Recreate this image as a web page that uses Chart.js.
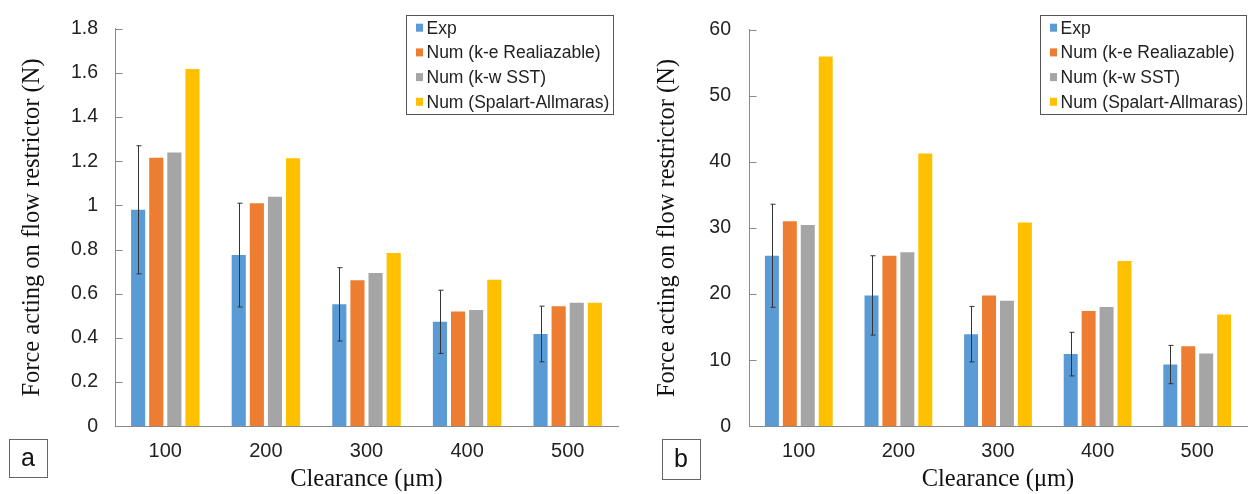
<!DOCTYPE html>
<html>
<head>
<meta charset="utf-8">
<title>Force acting on flow restrictor</title>
<script src="https://cdn.jsdelivr.net/npm/chart.js@4.4.1/dist/chart.umd.min.js"></script>
<style>
  body { margin: 0; background: #fff; }
  #wrap { position: relative; width: 1248px; height: 494px; }
  canvas { position: absolute; top: 0; }
  #chartA { left: 0; }
  #chartB { left: 624px; }
</style>
</head>
<body>
<div id="wrap">
  <canvas id="chartA" width="624" height="494"></canvas>
  <canvas id="chartB" width="624" height="494"></canvas>
</div>
<script>
// Categories and series names
const clearances = ['100', '200', '300', '400', '500'];
const seriesNames = ['Exp', 'Num (k-e Realiazable)', 'Num (k-w SST)', 'Num (Spalart-Allmaras)'];
const seriesColors = ['#5B9BD5', '#ED7D31', '#A5A5A5', '#FFC000'];

// Panel a
const expA = [0.98, 0.775, 0.552, 0.473, 0.418];
const expErrA = [0.29, 0.235, 0.166, 0.143, 0.126];
const keA = [1.216, 1.01, 0.661, 0.52, 0.544];
const kwA = [1.239, 1.039, 0.694, 0.526, 0.559];
const saA = [1.617, 1.213, 0.784, 0.664, 0.559];
const yTicksA = ['0', '0.2', '0.4', '0.6', '0.8', '1', '1.2', '1.4', '1.6', '1.8'];

// Panel b
const expB = [25.8, 19.8, 13.94, 10.92, 9.34];
const expErrB = [7.8, 6.0, 4.2, 3.3, 2.9];
const keB = [31.04, 25.8, 19.8, 17.44, 12.1];
const kwB = [30.45, 26.34, 18.98, 18.03, 11.02];
const saB = [55.95, 41.27, 30.85, 25.0, 16.9];
const yTicksB = ['0', '10', '20', '30', '40', '50', '60'];

const SANS = '"Liberation Sans", Arial, sans-serif';
const SERIF = '"Liberation Serif", "Times New Roman", serif';
const AXIS_GREY = '#898989';

// Error bars on the first dataset
const errorBarsPlugin = {
    id: 'errorBars',
    afterDatasetsDraw(chart, args, opts) {
        const meta = chart.getDatasetMeta(0);
        const y = chart.scales.y;
        const vals = chart.data.datasets[0].data;
        const ctx = chart.ctx;
        ctx.save();
        ctx.strokeStyle = '#333';
        ctx.lineWidth = 1;
        meta.data.forEach((bar, i) => {
            const x = Math.round(bar.x) + 0.5;
            const top = y.getPixelForValue(vals[i] + opts.errors[i]);
            const bot = y.getPixelForValue(vals[i] - opts.errors[i]);
            ctx.beginPath();
            ctx.moveTo(x, top);
            ctx.lineTo(x, bot);
            ctx.moveTo(x - 2, top);
            ctx.lineTo(x + 3, top);
            ctx.moveTo(x - 2, bot);
            ctx.lineTo(x + 3, bot);
            ctx.stroke();
        });
        ctx.restore();
    }
};

// Tick marks pointing into the plot, like the Excel original
const insideTicksPlugin = {
    id: 'insideTicks',
    afterDraw(chart) {
        const y = chart.scales.y;
        const left = Math.round(chart.chartArea.left) + 0.5;
        const ctx = chart.ctx;
        ctx.save();
        ctx.strokeStyle = AXIS_GREY;
        ctx.lineWidth = 1;
        y.ticks.forEach(t => {
            const py = Math.round(y.getPixelForValue(t.value)) + 0.5;
            ctx.beginPath();
            ctx.moveTo(left, py);
            ctx.lineTo(left + 7, py);
            ctx.stroke();
        });
        ctx.restore();
    }
};

// Boxed legend in the top right corner
const boxLegendPlugin = {
    id: 'boxLegend',
    afterDraw(chart, args, opts) {
        const ctx = chart.ctx;
        ctx.save();
        ctx.strokeStyle = '#555';
        ctx.lineWidth = 1;
        ctx.strokeRect(opts.x + 0.5, opts.y + 0.5, opts.w, opts.h);
        ctx.font = '17.5px ' + SANS;
        ctx.textBaseline = 'middle';
        chart.data.datasets.forEach((ds, i) => {
            const cy = opts.y + 12.7 + i * opts.rowH;
            ctx.fillStyle = ds.backgroundColor;
            ctx.fillRect(opts.x + 10, cy - 4, 7, 8);
            ctx.fillStyle = '#222';
            ctx.fillText(ds.label, opts.x + 20.5, cy + 1);
        });
        ctx.restore();
    }
};

// Panel letter in a small box
const panelTagPlugin = {
    id: 'panelTag',
    afterDraw(chart, args, opts) {
        const ctx = chart.ctx;
        ctx.save();
        ctx.strokeStyle = '#666';
        ctx.lineWidth = 1;
        ctx.strokeRect(opts.x + 0.5, opts.y + 0.5, opts.w, opts.h);
        ctx.fillStyle = '#111';
        ctx.font = '25px ' + SANS;
        ctx.textAlign = 'center';
        ctx.textBaseline = 'middle';
        ctx.fillText(opts.text, opts.x + opts.w / 2, opts.y + opts.h / 2 + 1);
        ctx.restore();
    }
};

function makeChart(canvasId, series, setup) {
    const datasets = series.map((data, i) => ({
        label: seriesNames[i],
        data: data,
        backgroundColor: seriesColors[i],
        borderWidth: 0,
        barPercentage: 0.78,
        categoryPercentage: 0.72
    }));

    return new Chart(document.getElementById(canvasId), {
        type: 'bar',
        data: { labels: clearances, datasets: datasets },
        plugins: [errorBarsPlugin, insideTicksPlugin, boxLegendPlugin, panelTagPlugin],
        options: {
            responsive: false,
            animation: false,
            devicePixelRatio: 1,
            layout: { padding: { top: 21.7, right: setup.padRight, left: 0, bottom: 0 } },
            plugins: {
                legend: { display: false },
                tooltip: { enabled: false },
                errorBars: { errors: setup.errors },
                boxLegend: setup.legend,
                panelTag: setup.tag
            },
            scales: {
                x: {
                    grid: { display: false, drawTicks: false },
                    border: { display: true, color: AXIS_GREY, width: 1 },
                    ticks: { color: '#222', font: { family: SANS, size: 20 }, padding: 13, maxRotation: 0 },
                    title: {
                        display: true,
                        text: 'Clearance (μm)',
                        color: '#111',
                        font: { family: SERIF, size: 24.5 },
                        padding: 0
                    },
                    afterFit: s => { s.height = 67.7; }
                },
                y: {
                    min: 0,
                    max: setup.max,
                    grid: { display: false, drawTicks: false },
                    border: { display: true, color: AXIS_GREY, width: 1 },
                    ticks: {
                        stepSize: setup.step,
                        color: '#222',
                        font: { family: SANS, size: 19.5 },
                        padding: setup.tickPad,
                        callback: (v, idx) => setup.tickLabels[idx]
                    },
                    title: {
                        display: true,
                        text: 'Force acting on flow restrictor (N)',
                        color: '#111',
                        font: { family: SERIF, size: 24.5 },
                        padding: { top: setup.titlePad, bottom: 0 }
                    },
                    afterFit: s => { s.width = setup.yWidth; }
                }
            }
        }
    });
}

makeChart('chartA', [expA, keA, kwA, saA], {
    errors: expErrA,
    max: 1.8,
    step: 0.2,
    tickLabels: yTicksA,
    tickPad: 17,
    titlePad: 18,
    yWidth: 115,
    padRight: 6,
    legend: { x: 406, y: 15, w: 207, h: 99, rowH: 24.7 },
    tag: { x: 9, y: 439, w: 38, h: 38, text: 'a' }
});

makeChart('chartB', [expB, keB, kwB, saB], {
    errors: expErrB,
    max: 60,
    step: 10,
    tickLabels: yTicksB,
    tickPad: 18,
    titlePad: 29,
    yWidth: 125,
    padRight: 1,
    legend: { x: 416, y: 15, w: 206, h: 99, rowH: 24.7 },
    tag: { x: 38, y: 439, w: 38, h: 40, text: 'b' }
});
</script>
</body>
</html>
